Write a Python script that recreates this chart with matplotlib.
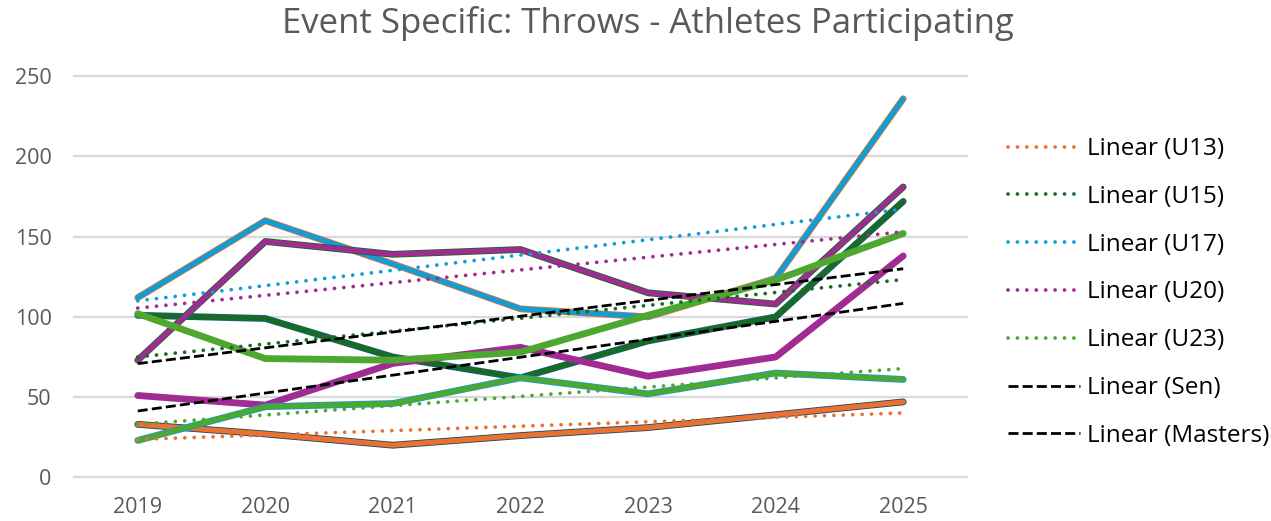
import numpy as np
import matplotlib
matplotlib.use("Agg")
import matplotlib.pyplot as plt
import matplotlib.patheffects as pe

plt.rcParams["font.family"] = ["Open Sans", "DejaVu Sans"]

# Data
years = ["2019", "2020", "2021", "2022", "2023", "2024", "2025"]
u13 = [33, 27, 20, 26, 31, 39, 47]
u15 = [101, 99, 75, 62, 85, 100, 172]
u17 = [112, 160, 133, 105, 100, 124, 236]
u20 = [73, 147, 139, 142, 115, 108, 181]
u23 = [23, 44, 46, 62, 52, 65, 61]
sen = [102, 74, 73, 78, 101, 123, 152]
masters = [51, 45, 71, 81, 63, 75, 138]

# name, values, line colour, outline colour, trend colour, trend style
series = [
    ("U13", u13, "#E97132", "#1B4760", "#E97132", "dot"),
    ("U15", u15, "#196B24", "#156082", "#196B24", "dot"),
    ("U17", u17, "#0F9ED5", "#E97132", "#0F9ED5", "dot"),
    ("U20", u20, "#A02B93", "#196B24", "#A02B93", "dot"),
    ("U23", u23, "#4EA72E", "#0F9ED5", "#4EA72E", "dot"),
    ("Sen", sen, "#4EA72E", None, "black", "dash"),
    ("Masters", masters, "#A02B93", None, "black", "dash"),
]
zorders = {"U13": 3, "U15": 4, "U17": 5, "U20": 6, "Masters": 7, "U23": 8, "Sen": 9}

fig = plt.figure(figsize=(12.71, 5.21), dpi=100)
ax = fig.add_axes([0.0582, 0.0839, 0.7026, 0.7697])

x = np.arange(len(years))
trend_handles = []
for name, vals, col, edge, tcol, tstyle in series:
    if edge:
        ax.plot(x, vals, color=col, lw=3.7, solid_capstyle="round",
                solid_joinstyle="round", zorder=zorders[name],
                path_effects=[pe.Stroke(linewidth=4.9, foreground=edge), pe.Normal()])
    else:
        ax.plot(x, vals, color=col, lw=4.9, solid_capstyle="round",
                solid_joinstyle="round", zorder=zorders[name])

for name, vals, col, edge, tcol, tstyle in series:
    m, b = np.polyfit(x, vals, 1)
    if tstyle == "dot":
        ls = (0, (0.01, 2.5))
        lw = 2.7
        cap = "round"
    else:
        ls = (0, (3.6, 1.5))
        lw = 2.0
        cap = "butt"
    h, = ax.plot(x, m * x + b, color=tcol, lw=lw, linestyle=ls,
                 dash_capstyle=cap, zorder=20, label=f"Linear ({name})")
    trend_handles.append(h)

ax.set_xlim(-0.5, 6.5)
ax.set_ylim(0, 250)
ax.set_yticks(range(0, 251, 50))
ax.set_xticks(x)
ax.set_xticklabels(years)
ax.yaxis.grid(True, color="#D9D9D9", lw=1.6)
for gl in ax.get_ygridlines():
    gl.set_clip_on(False)
ax.set_axisbelow(True)
for s in ax.spines.values():
    s.set_visible(False)
ax.tick_params(axis="both", length=0, labelsize=15.5, labelcolor="#595959")
ax.tick_params(axis="y", pad=16)
ax.tick_params(axis="x", pad=14)

fig.text(0.5095, 0.955, "Event Specific: Throws - Athletes Participating",
         ha="center", va="center", fontsize=25, color="#595959")

fig.legend(handles=trend_handles, loc="center left",
           bbox_to_anchor=(0.793, 0.4386), frameon=False, fontsize=17.5,
           handlelength=2.96, handletextpad=0.29, labelspacing=0.98,
           borderaxespad=0, borderpad=0)

fig.savefig("out.png", dpi=100)
